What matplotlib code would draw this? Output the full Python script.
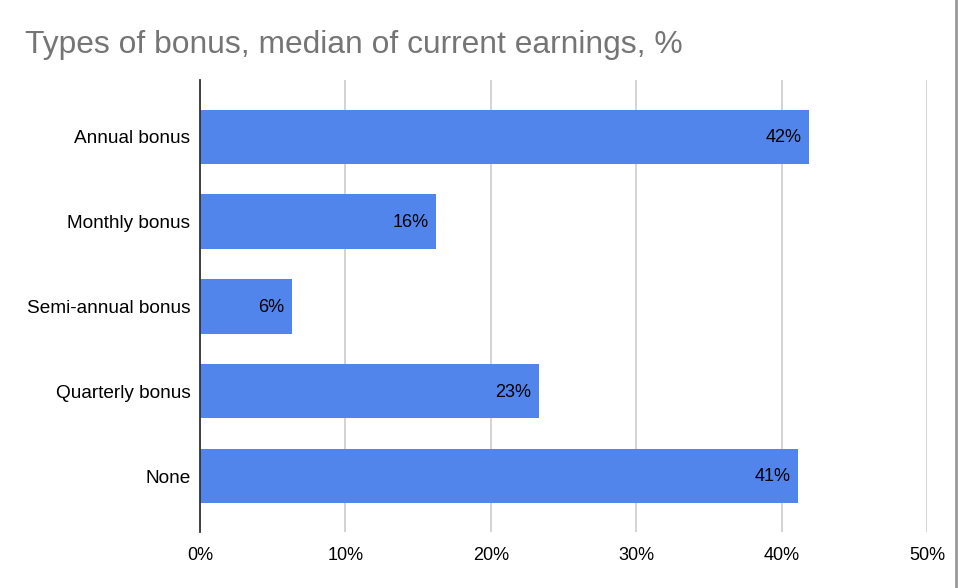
import matplotlib.pyplot as plt
from matplotlib.lines import Line2D

plt.rcParams['font.family'] = ['Liberation Sans', 'DejaVu Sans']

# datos
categorias = ['Annual bonus', 'Monthly bonus', 'Semi-annual bonus', 'Quarterly bonus', 'None']
valores = [41.9, 16.2, 6.3, 23.3, 41.1]
etiquetas = ['42%', '16%', '6%', '23%', '41%']
ticks_x = [0, 10, 20, 30, 40, 50]

fig = plt.figure(figsize=(9.58, 5.88), dpi=100)
ax = fig.add_axes([200 / 958, 1 - 532 / 588, 727 / 958, 452 / 588])

pos = list(range(len(categorias)))
ax.barh(pos, valores, height=0.64, color='#5185EC', zorder=2)
for p, v, t in zip(pos, valores, etiquetas):
    ax.text(v - 0.5, p + 0.01, t, ha='right', va='center', fontsize=13, color='#000000', zorder=3)

ax.set_yticks(pos)
ax.set_yticklabels(categorias, fontsize=13.7)
ax.set_ylim(4.66, -0.67)
ax.set_xlim(0, 50)
ax.set_xticks(ticks_x)
ax.set_xticklabels([f'{t}%' for t in ticks_x], fontsize=13)
ax.tick_params(length=0)
ax.tick_params(axis='y', pad=7)
ax.tick_params(axis='x', pad=11)
ax.grid(True, axis='x', color='#cccccc', linewidth=1.2, zorder=0)
for lado in ['top', 'right', 'bottom']:
    ax.spines[lado].set_visible(False)
ax.spines['left'].set_color('#333333')
ax.spines['left'].set_linewidth(1.3)
ax.spines['left'].set_zorder(4)

fig.text(25 / 958, 1 - 45 / 588, 'Types of bonus, median of current earnings, %',
         fontsize=22.9, color='#757575', ha='left', va='center')
fig.add_artist(Line2D([956 / 958, 956 / 958], [0, 1], color='#999999', linewidth=2))

plt.savefig('out.png', dpi=100)
